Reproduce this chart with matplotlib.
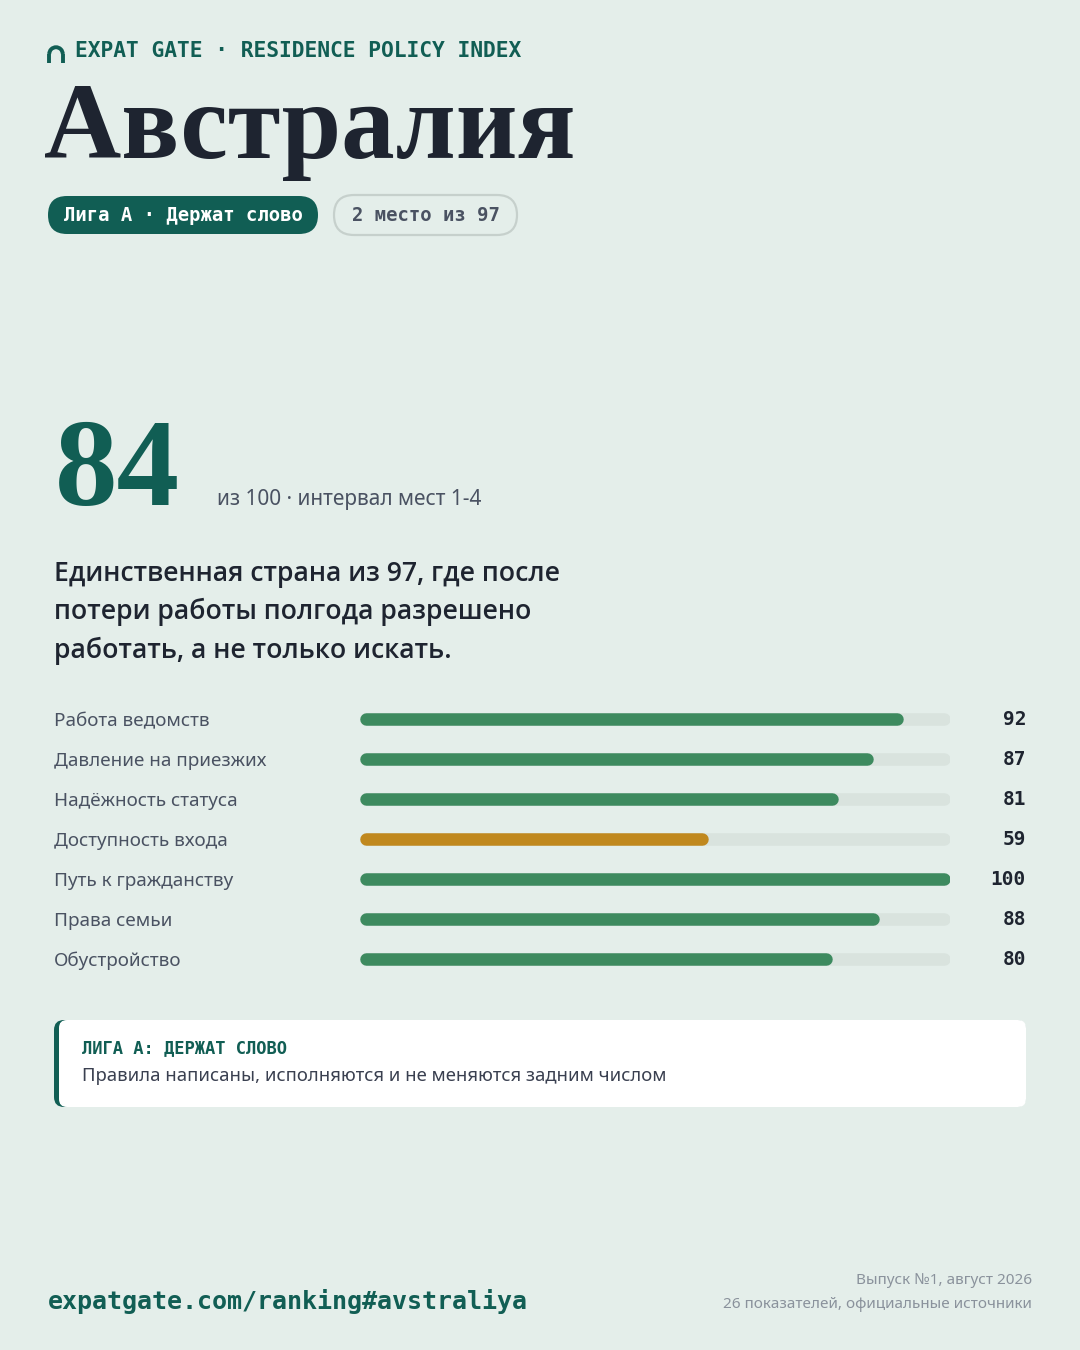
import matplotlib
matplotlib.use("Agg")
import matplotlib.pyplot as plt
from matplotlib.patches import FancyBboxPatch, Arc
from matplotlib.transforms import blended_transform_factory

# ---------------- data ----------------
brand = "EXPAT GATE · RESIDENCE POLICY INDEX"
country = "Австралия"
league_pill = "Лига А · Держат слово"
rank_pill = "2 место из 97"
score = 84
score_note = "из 100 · интервал мест 1-4"
headline = "Единственная страна из 97, где после\nпотери работы полгода разрешено\nработать, а не только искать."
categories = ["Работа ведомств", "Давление на приезжих", "Надёжность статуса",
              "Доступность входа", "Путь к гражданству", "Права семьи", "Обустройство"]
values = [92, 87, 81, 59, 100, 88, 80]
highlight = [False, False, False, True, False, False, False]
card_title = "ЛИГА А: ДЕРЖАТ СЛОВО"
card_text = "Правила написаны, исполняются и не меняются задним числом"
footer_url = "expatgate.com/ranking#avstraliya"
footer_right = ["Выпуск №1, август 2026", "26 показателей, официальные источники"]

# ---------------- style ----------------
BG = "#E4EEEA"
DKGREEN = "#115E54"
BARGREEN = "#3D8A5F"
ORANGE = "#C0881E"
TRACK = "#D9E3DE"
INK = "#1E2430"
GRAY = "#4A5262"
LIGHTGRAY = "#8A929C"
MONO = ["DejaVu Sans Mono"]
SANS = ["Noto Sans", "DejaVu Sans"]
HEAD = ["Open Sans", "Noto Sans", "DejaVu Sans"]
SERIF = ["Liberation Serif", "DejaVu Serif"]

W, H = 1080, 1350
fig = plt.figure(figsize=(W / 100, H / 100), dpi=100, facecolor=BG)
ax = fig.add_axes([0, 0, 1, 1])
ax.set_xlim(0, W)
ax.set_ylim(H, 0)
ax.axis("off")
ax.set_facecolor(BG)

# logo arch
ax.add_patch(Arc((56, 54), 13.5, 13.5, theta1=180, theta2=360, color=DKGREEN, lw=2.8))
ax.plot([49.25, 49.25], [54, 62.5], color=DKGREEN, lw=2.8, solid_capstyle="butt")
ax.plot([62.75, 62.75], [54, 62.5], color=DKGREEN, lw=2.8, solid_capstyle="butt")

ax.text(75, 51, brand, family=MONO, weight="bold", fontsize=15.3, color=DKGREEN,
        va="center", ha="left")

# title
ax.text(44, 158, country, family=SERIF, weight="bold", fontsize=77, color=INK,
        va="baseline", ha="left")

# pills
ax.add_patch(FancyBboxPatch((48, 196), 270, 38, boxstyle="round,pad=0,rounding_size=19",
                            fc=DKGREEN, ec="none"))
ax.text(183, 215.5, league_pill, family=MONO, weight="bold", fontsize=13.6, color="white",
        va="center", ha="center")
ax.add_patch(FancyBboxPatch((334, 195), 183, 40, boxstyle="round,pad=0,rounding_size=20",
                            fc="none", ec="#C6D0CC", lw=1.6))
ax.text(425.5, 215.5, rank_pill, family=MONO, weight="bold", fontsize=13.6, color=GRAY,
        va="center", ha="center")

# score
ax.text(55, 505, str(score), family=SERIF, weight="bold", fontsize=90, color=DKGREEN,
        va="baseline", ha="left")
ax.text(217, 505, score_note, family=SANS, fontsize=15, color=GRAY, va="baseline", ha="left")

# headline (va=baseline aligns the last line)
ax.text(54, 658, headline, family=HEAD, weight="semibold", fontsize=19.2, color=INK,
        va="baseline", ha="left", linespacing=1.49)

# bars
bx0, bx1 = 360, 950
top, rows = 699, len(categories)
bax = fig.add_axes([bx0 / W, 1 - (top + 40 * rows) / H, (bx1 - bx0) / W, 40 * rows / H])
bax.set_xlim(0, 100)
bax.set_ylim(rows - 0.5, -0.5)
bax.axis("off")
bax.patch.set_alpha(0)
lw_px = 12.5
lw_pt = lw_px * 72 / 100
cap = (lw_px / 2) / (bx1 - bx0) * 100
for i, (v, hl) in enumerate(zip(values, highlight)):
    bax.plot([cap, 100 - cap], [i, i], color=TRACK, lw=lw_pt, solid_capstyle="round")
    bax.plot([cap, v - cap], [i, i], color=ORANGE if hl else BARGREEN, lw=lw_pt,
             solid_capstyle="round")

tr = blended_transform_factory(ax.transData, bax.transData)
for i, (c, v) in enumerate(zip(categories, values)):
    ax.text(54, i + 0.05, c, transform=tr, family=SANS, fontsize=13.6, color=GRAY,
            va="center", ha="left")
    ax.text(1026, i + 0.02, str(v), transform=tr, family=MONO, weight="bold", fontsize=14,
            color=INK, va="center", ha="right")

# card
ax.add_patch(FancyBboxPatch((54, 1020), 972, 87, boxstyle="round,pad=0,rounding_size=10",
                            fc=DKGREEN, ec="none"))
ax.add_patch(FancyBboxPatch((59, 1020), 967, 87, boxstyle="round,pad=0,rounding_size=8",
                            fc="white", ec="none"))
ax.text(82, 1048, card_title, family=MONO, weight="bold", fontsize=12.3, color=DKGREEN,
        va="center", ha="left")
ax.text(82, 1076, card_text, family=SANS, fontsize=13.3, color="#3A4050",
        va="center", ha="left")

# footer
ax.text(48, 1301, footer_url, family=MONO, weight="bold", fontsize=18, color=DKGREEN,
        va="center", ha="left")
ax.text(1032, 1281, footer_right[0], family=SANS, fontsize=11, color=LIGHTGRAY,
        va="center", ha="right")
ax.text(1032, 1304, footer_right[1], family=SANS, fontsize=11, color=LIGHTGRAY,
        va="center", ha="right")

fig.savefig("out.png", dpi=100, facecolor=BG)
